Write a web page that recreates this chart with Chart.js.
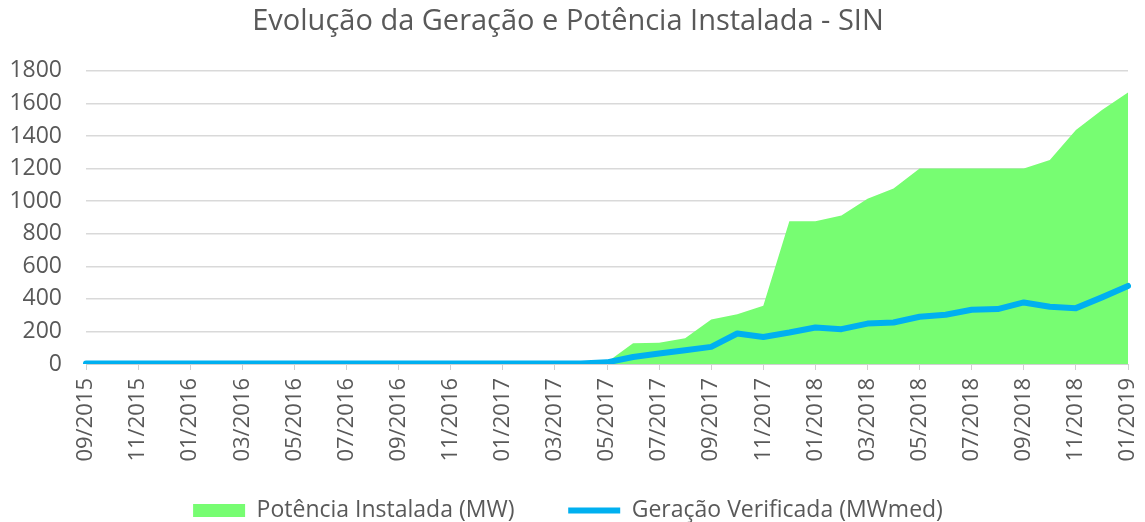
<!DOCTYPE html>
<html>
<head>
<meta charset="utf-8">
<script src="https://cdn.jsdelivr.net/npm/chart.js@4/dist/chart.umd.min.js"></script>
<style>
  html, body { margin: 0; padding: 0; background: #fff; }
  #wrap { width: 1145px; height: 522px; }
</style>
</head>
<body>
<div id="wrap"><canvas id="evolChart"></canvas></div>
<script>
// Evolução da Geração e Potência Instalada - SIN

const meses = [
  '09/2015', '10/2015', '11/2015', '12/2015',
  '01/2016', '02/2016', '03/2016', '04/2016', '05/2016', '06/2016',
  '07/2016', '08/2016', '09/2016', '10/2016', '11/2016', '12/2016',
  '01/2017', '02/2017', '03/2017', '04/2017', '05/2017', '06/2017',
  '07/2017', '08/2017', '09/2017', '10/2017', '11/2017', '12/2017',
  '01/2018', '02/2018', '03/2018', '04/2018', '05/2018', '06/2018',
  '07/2018', '08/2018', '09/2018', '10/2018', '11/2018', '12/2018',
  '01/2019'
];

const potenciaInstalada = [
  0, 0, 0, 0, 0, 0, 0, 0, 0, 0,
  0, 0, 0, 0, 0, 0, 0, 0, 0, 2,
  10, 128, 130, 158, 273, 306, 357, 877, 877, 912,
  1015, 1077, 1200, 1200, 1200, 1200, 1200, 1252, 1437, 1560,
  1667
];

const geracaoVerificada = [
  3, 3, 3, 3, 3, 3, 3, 3, 3, 3,
  3, 3, 3, 3, 3, 3, 3, 3, 3, 3,
  10, 43, 64, 84, 105, 187, 166, 193, 224, 214,
  248, 255, 290, 302, 333, 337, 378, 351, 343, 409,
  479
];

const yTicks = { min: 0, max: 1800, step: 200 };

const cinza = '#595959';
const fonte = '"Open Sans", Lato, sans-serif';
const espaco = '\u00a0'.repeat(9); // afasta os dois itens da legenda

const ctx = document.getElementById('evolChart').getContext('2d');
new Chart(ctx, {
  type: 'line',
  data: {
    labels: meses,
    datasets: [
      {
        label: 'Geração Verificada (MWmed)',
        data: geracaoVerificada,
        borderColor: '#00b0f0',
        backgroundColor: '#00b0f0',
        borderWidth: 6,
        pointRadius: 0,
        fill: false,
        tension: 0,
        borderCapStyle: 'round',
        borderJoinStyle: 'round',
        pointStyle: 'line'
      },
      {
        label: 'Potência Instalada (MW)',
        data: potenciaInstalada,
        borderColor: '#77fd72',
        backgroundColor: '#77fd72',
        borderWidth: 0,
        pointRadius: 0,
        fill: 'origin',
        tension: 0,
        pointStyle: 'rect'
      }
    ]
  },
  options: {
    responsive: true,
    maintainAspectRatio: false,
    animation: false,
    layout: { padding: { left: 8, right: 17, top: 4, bottom: -10 } },
    scales: {
      x: {
        grid: {
          drawOnChartArea: false,
          drawTicks: true,
          tickLength: 6,
          color: '#d0d0d0'
        },
        border: { color: '#d0d0d0' },
        afterFit: (scale) => {
          scale.height = 135;
          scale.paddingLeft = 0;
          scale.paddingRight = 0;
        },
        ticks: {
          autoSkip: false,
          maxRotation: 90,
          minRotation: 90,
          color: cinza,
          font: { family: fonte, size: 22 },
          padding: 8,
          callback: function (val, i) {
            return i % 2 === 0 ? meses[i] : null;
          }
        }
      },
      y: {
        min: yTicks.min,
        max: yTicks.max,
        grid: { color: '#d9d9d9', lineWidth: 1.5, drawTicks: false },
        border: { display: false },
        afterFit: (scale) => { scale.width = 78; },
        ticks: {
          stepSize: yTicks.step,
          color: cinza,
          font: { family: fonte, size: 23 },
          padding: 24,
          callback: (v) => String(v)
        }
      }
    },
    plugins: {
      title: {
        display: true,
        text: 'Evolução da Geração e Potência Instalada - SIN',
        color: cinza,
        font: { family: fonte, size: 29, weight: 'normal' },
        padding: { top: 0, bottom: 32 }
      },
      legend: {
        position: 'bottom',
        labels: {
          usePointStyle: true,
          pointStyleWidth: 52,
          boxHeight: 13,
          color: cinza,
          font: { family: fonte, size: 23 },
          padding: 0,
          sort: (a, b) => b.datasetIndex - a.datasetIndex,
          generateLabels: (chart) => {
            const itens = Chart.defaults.plugins.legend.labels.generateLabels(chart);
            itens.forEach((it) => {
              if (it.datasetIndex === 1) it.text = it.text + espaco;
            });
            return itens;
          }
        }
      },
      tooltip: { enabled: false }
    }
  }
});
</script>
</body>
</html>
